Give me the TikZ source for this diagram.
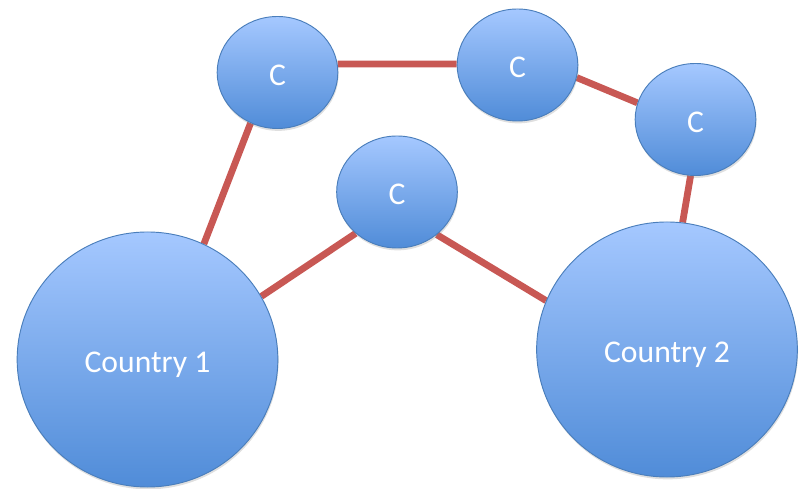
\documentclass[tikz,border=0pt]{standalone}
\usepackage{fontspec}
\setmainfont{Carlito}
\usepackage{xcolor}
\usepackage{tikz}
\usetikzlibrary{shapes.geometric, shadows, backgrounds}
\definecolor{blobtop}{RGB}{165,200,255}
\definecolor{blobbot}{RGB}{80,140,216}
\definecolor{blobline}{RGB}{74,126,187}
\definecolor{linkred}{RGB}{200,88,84}
\tikzstyle{blob}    = [ellipse, draw=blobline, line width=0.8pt, inner sep=0pt,
    top color=blobtop, bottom color=blobbot, text=white,
    text height=22pt, text depth=0pt,
    drop shadow={opacity=0.25, shadow xshift=0.6pt, shadow yshift=-2pt},
    font=\fontsize{27}{31}\selectfont]
\tikzstyle{small}   = [blob, minimum width=3.62cm, minimum height=3.36cm]
\tikzstyle{country} = [blob, minimum width=7.82cm, minimum height=7.65cm]
\tikzstyle{link}    = [draw=linkred, line width=5.8pt]

\begin{document}
\begin{tikzpicture}[x=0.03cm, y=-0.03cm]
    \useasboundingbox (0,0) rectangle (803,489);
    \node (cA)    [small]   at (277.5,72.5)  {C};
    \node (cB)    [small]   at (517.5,65)    {C};
    \node (cC)    [small]   at (695.5,119.5) {C};
    \node (cD)    [small]   at (397,192)     {C};
    \node (land1) [country] at (147.5,359.5) {Country 1};
    \node (land2) [country] at (667,349.5)   {Country 2};
    \begin{scope}[on background layer]
        \draw [link] (cA.8)      -- (cB.179);
        \draw [link] (cB.-12.7)  -- (cC.164);
        \draw [link] (cA.-118.6) -- (land1.64.7);
        \draw [link] (cD.-135.7) -- (land1.29.8);
        \draw [link] (cD.-47)    -- (land2.158.4);
        \draw [link] (cC.-95.7)  -- (land2.83.3);
    \end{scope}
\end{tikzpicture}
\end{document}
